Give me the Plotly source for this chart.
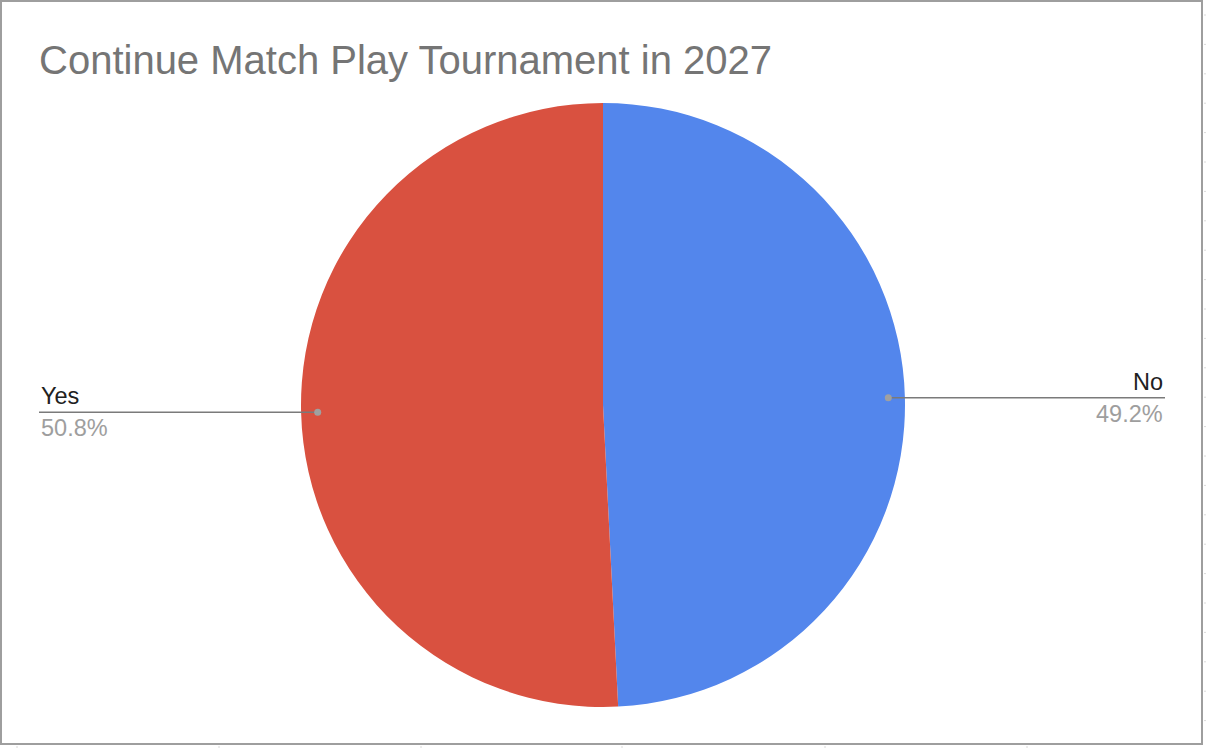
import math
import plotly.graph_objects as go

# survey answers
labels = ["No", "Yes"]
values = [49.2, 50.8]
colors = ["#5386ec", "#d95140"]
title = "Continue Match Play Tournament in 2027"

W, H = 1206, 748
pie_top, pie_bottom = 103, 707  # pixel rows of the pie
R = (pie_bottom - pie_top) / 2
cx, cy = W / 2, pie_top + R

fig = go.Figure()
fig.add_trace(go.Pie(
    labels=labels, values=values,
    marker=dict(colors=colors, line=dict(width=0)),
    sort=False, direction="clockwise", rotation=0,
    textinfo="none", hoverinfo="label+percent",
    domain=dict(x=[0, 1], y=[1 - pie_bottom / H, 1 - pie_top / H]),
    showlegend=False,
))

# leader lines + labels, placed at each slice's middle angle
total = sum(values)
start = 0
for lab, v in zip(labels, values):
    mid = (start + v / 2) / total * 2 * math.pi
    start += v
    px_ = cx + 0.945 * R * math.sin(mid)
    py_ = cy - 0.945 * R * math.cos(mid)
    right = math.sin(mid) > 0
    end_x = 1165 if right else 39
    fig.add_shape(type="line", xref="paper", yref="paper",
                  x0=px_ / W, x1=end_x / W, y0=1 - py_ / H, y1=1 - py_ / H,
                  line=dict(color="#7a7a7a", width=1.5))
    fig.add_shape(type="circle", xref="paper", yref="paper",
                  x0=(px_ - 3.5) / W, x1=(px_ + 3.5) / W,
                  y0=1 - (py_ + 3.5) / H, y1=1 - (py_ - 3.5) / H,
                  fillcolor="#a0a0a0", line=dict(width=0))
    anchor = "right" if right else "left"
    fig.add_annotation(x=end_x / W, y=1 - (py_ - 1) / H, xref="paper", yref="paper",
                       text=lab, showarrow=False, xanchor=anchor, yanchor="bottom",
                       font=dict(size=23.5, color="#212121", family="Liberation Sans, Arial"))
    fig.add_annotation(x=end_x / W, y=1 - (py_ + 1) / H, xref="paper", yref="paper",
                       text=f"{v / total * 100:.1f}%", showarrow=False, xanchor=anchor,
                       yanchor="top",
                       font=dict(size=23.5, color="#9e9e9e", family="Liberation Sans, Arial"))

# chart frame (sheet border)
fig.add_shape(type="rect", xref="paper", yref="paper",
              x0=1 / W, x1=1202 / W, y0=1 - 744 / H, y1=1 - 1 / H,
              line=dict(color="#9e9e9e", width=2))
# spreadsheet grid peeking out at right and bottom
for k in range(26):
    yy = 15 + 29.4 * k
    fig.add_shape(type="line", xref="paper", yref="paper",
                  x0=1204 / W, x1=1206 / W, y0=1 - yy / H, y1=1 - yy / H,
                  line=dict(color="#dadada", width=1))
for xx in [17, 219, 421, 622, 825, 1027]:
    fig.add_shape(type="line", xref="paper", yref="paper",
                  x0=xx / W, x1=xx / W, y0=0, y1=1 - 746 / H,
                  line=dict(color="#dadada", width=1))

fig.update_layout(
    width=W, height=H,
    margin=dict(l=0, r=0, t=0, b=0),
    paper_bgcolor="white", plot_bgcolor="white",
    title=dict(text=title, x=39 / W, xanchor="left", y=1 - 60 / H, yanchor="middle",
               font=dict(size=40, color="#757575", family="Liberation Sans, Arial")),
)

fig.write_html("out.html", config={"displayModeBar": False},
               post_script="document.body.style.margin='0';")
